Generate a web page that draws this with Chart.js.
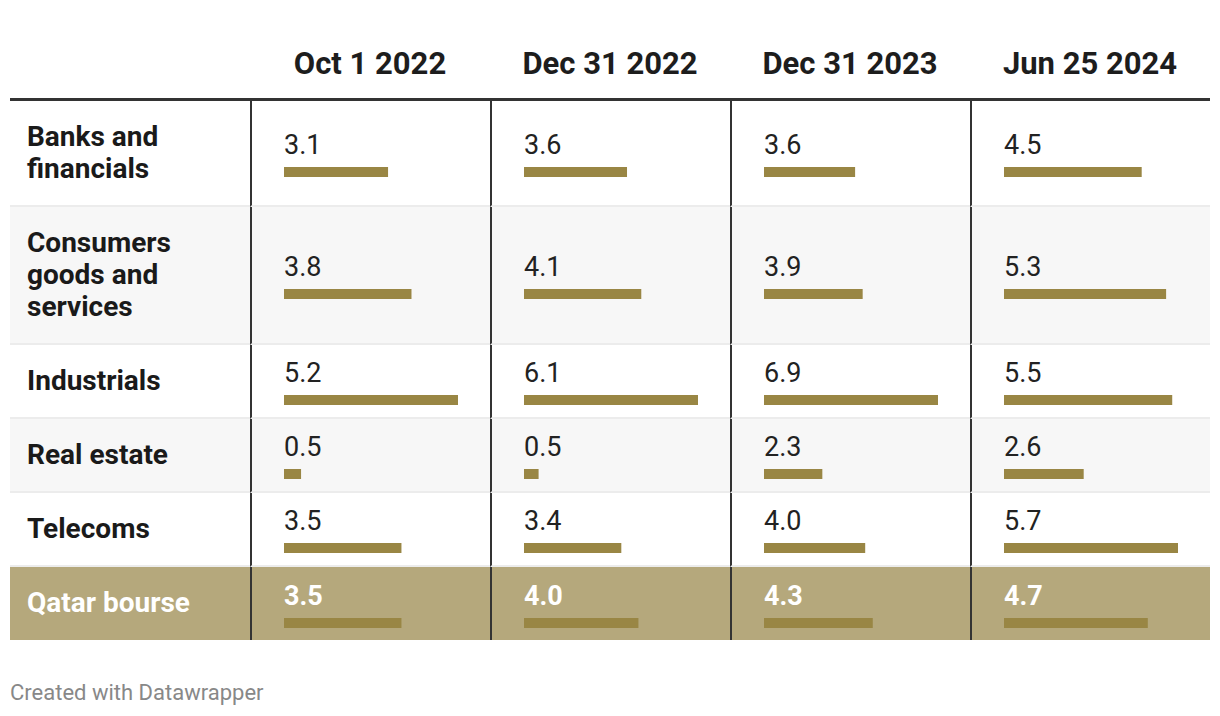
<!DOCTYPE html>
<html>
<head>
<meta charset="utf-8">
<script src="https://cdn.jsdelivr.net/npm/chart.js@4"></script>
<style>
  body { margin: 0; background: #fff; font-family: Roboto, "Noto Sans", sans-serif; }
  #wrap { position: absolute; left: 10px; top: 0; width: 1200px; }
  table { border-collapse: separate; border-spacing: 0; width: 1200px; table-layout: fixed; }
  th { height: 82px; padding: 0 0 16px 0; vertical-align: bottom; font-size: 31px; font-weight: 700;
       color: #1d1d1d; border-bottom: 3px solid #333; line-height: 36px; text-align: center; }
  td { border-bottom: 2px solid #ececec; vertical-align: middle; }
  td.label { padding: 20px 12px 20px 17px; font-size: 28px; font-weight: 700; line-height: 32px; color: #1a1a1a; }
  td.cell { border-left: 2px solid #333; padding: 0 0 0 32px; }
  tr.alt td { background: #f7f7f7; }
  tr.total td { background: #b5a87c; border-bottom: none; color: #fff; }
  tr.total td.label { color: #fff; padding-bottom: 21px; }
  .val { font-size: 27px; line-height: 32px; color: #222; }
  tr.total .val { color: #fff; font-weight: 700; }
  .bar { display: block; margin-top: 6px; }
  #note { position: absolute; left: 10px; top: 680px; font-size: 22px; color: #888; }
</style>
</head>
<body>
<div id="wrap">
  <table id="tbl">
    <colgroup><col style="width:240px"><col style="width:240px"><col style="width:240px"><col style="width:240px"><col style="width:240px"></colgroup>
    <thead><tr id="head"><th></th></tr></thead>
    <tbody id="body"></tbody>
  </table>
</div>
<div id="note">Created with Datawrapper</div>

<script>
// Column headers (dates)
const dates = ['Oct 1 2022', 'Dec 31 2022', 'Dec 31 2023', 'Jun 25 2024'];

// Sectors (rows)
const sectors = ['Banks and financials', 'Consumers goods and services', 'Industrials', 'Real estate', 'Telecoms', 'Qatar bourse'];

// Values per date, one entry per sector
const oct2022 = [3.1, 3.8, 5.2, 0.5, 3.5, 3.5];
const dec2022 = [3.6, 4.1, 6.1, 0.5, 3.4, 4.0];
const dec2023 = [3.6, 3.9, 6.9, 2.3, 4.0, 4.3];
const jun2024 = [4.5, 5.3, 5.5, 2.6, 5.7, 4.7];

const columns = [oct2022, dec2022, dec2023, jun2024];

const BAR_COLOR = '#998644';

// Header
const headEl = document.getElementById('head');
dates.forEach(d => {
  const th = document.createElement('th');
  th.textContent = d;
  headEl.appendChild(th);
});

// Body rows
const bodyEl = document.getElementById('body');
const canvases = [];

sectors.forEach((name, r) => {
  const tr = document.createElement('tr');
  if (r === 1 || r === 3) tr.className = 'alt';
  if (r === sectors.length - 1) tr.className = 'total';

  const tdLabel = document.createElement('td');
  tdLabel.className = 'label';
  tdLabel.textContent = name;
  tr.appendChild(tdLabel);

  columns.forEach((col, c) => {
    const td = document.createElement('td');
    td.className = 'cell';
    const val = document.createElement('div');
    val.className = 'val';
    val.textContent = col[r].toFixed(1);
    const cv = document.createElement('canvas');
    cv.className = 'bar';
    cv.width = 174;
    cv.height = 10;
    td.appendChild(val);
    td.appendChild(cv);
    tr.appendChild(td);
    canvases.push({ cv, value: col[r], max: Math.max(...col) });
  });

  bodyEl.appendChild(tr);
});

// One tiny horizontal bar chart per cell, scaled to its column maximum
canvases.forEach(({ cv, value, max }) => {
  new Chart(cv.getContext('2d'), {
    type: 'bar',
    data: {
      labels: [''],
      datasets: [{
        data: [value],
        backgroundColor: BAR_COLOR,
        borderWidth: 0,
        barPercentage: 1,
        categoryPercentage: 1
      }]
    },
    options: {
      indexAxis: 'y',
      responsive: false,
      animation: false,
      layout: { padding: 0 },
      plugins: { legend: { display: false }, tooltip: { enabled: false } },
      scales: {
        x: { display: false, min: 0, max: max },
        y: { display: false }
      }
    }
  });
});
</script>
</body>
</html>
